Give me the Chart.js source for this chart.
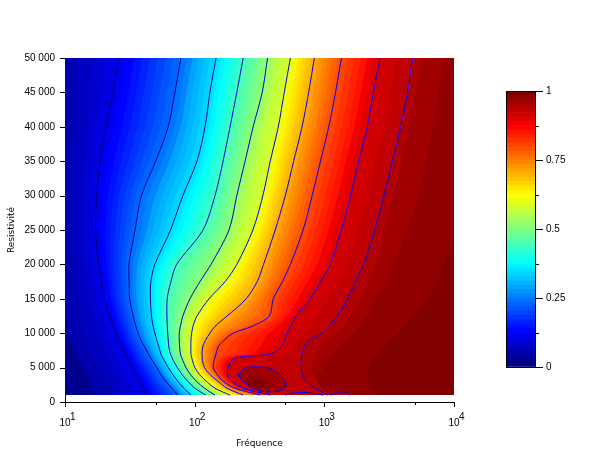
<!DOCTYPE html>
<html lang="fr">
<head>
<meta charset="UTF-8">
<title>Resistivité / Fréquence</title>
<script src="https://cdn.jsdelivr.net/npm/chart.js"></script>
<style>
  body { margin: 0; background: #fff; }
  #main { position: absolute; left: 0; top: 0; }
  #bar { position: absolute; left: 490px; top: 80px; }
</style>
</head>
<body>
<canvas id="main" width="610" height="460"></canvas>
<canvas id="bar" width="110" height="300"></canvas>
<script>
// rows of the contour table (resistivity), values below are log10(frequency) read on each row
const resistivity = [50000,45000,40000,35000,30000,25000,20000,17500,15000,12500,11000,10000,9000,8000,7000,6500,6000,5000,4000,3000,2000,1000];

// contours drawn on the figure
const contour10 = [1.416,1.370,1.319,1.272,1.246,1.236,1.262,1.283,1.306,1.344,1.375,1.396,1.414,1.445,1.468,1.480,1.491,1.522,1.553,1.577,1.604,1.623];
const contour20 = [1.894,1.848,1.796,1.700,1.590,1.540,1.494,1.495,1.499,1.526,1.546,1.565,1.584,1.615,1.642,1.658,1.673,1.708,1.739,1.778,1.824,1.871];
const contour30 = [2.165,2.118,2.080,2.018,1.909,1.814,1.693,1.662,1.659,1.667,1.680,1.693,1.708,1.724,1.739,1.751,1.766,1.797,1.832,1.871,1.917,1.971];
const contour40 = [2.374,2.325,2.273,2.219,2.157,2.064,1.861,1.817,1.788,1.786,1.789,1.792,1.796,1.801,1.813,1.824,1.836,1.867,1.902,1.948,2.002,2.087];
const contour50 = [2.562,2.521,2.451,2.389,2.325,2.265,2.126,2.041,1.964,1.909,1.890,1.881,1.881,1.884,1.890,1.898,1.909,1.933,1.967,2.014,2.076,2.157];
const contour60 = [2.738,2.691,2.645,2.583,2.526,2.449,2.325,2.235,2.111,2.018,1.987,1.977,1.971,1.971,1.971,1.977,1.983,2.002,2.037,2.091,2.157,2.273];
const contour70 = [2.923,2.879,2.828,2.763,2.699,2.621,2.531,2.482,2.397,2.250,2.157,2.118,2.084,2.062,2.057,2.058,2.060,2.076,2.118,2.180,2.250,2.374];
const contour80 = [3.132,3.086,3.034,2.970,2.906,2.836,2.738,2.676,2.606,2.575,2.443,2.296,2.227,2.180,2.165,2.157,2.149,2.144,2.173,2.219,2.312,2.505];
const contour90 = [3.429,3.378,3.331,3.264,3.202,3.130,3.047,2.970,2.892,2.784,2.738,2.714,2.691,2.668,2.583,2.335,2.289,2.258,2.254,2.289,2.374,2.583];
const contour95 = [3.682,3.641,3.589,3.525,3.460,3.388,3.303,3.241,3.179,3.101,3.039,2.985,2.885,2.846,2.827,2.823,2.820,2.823,2.830,2.861,2.923,3.024];

// colour band edges without a drawn line
const edge04 = [0.988,0.988,0.988,0.988,0.988,0.992,0.996,1.000,1.004,1.012,1.019,1.027,1.043,1.066,1.089,1.104,1.120,1.143,1.174,1.197,1.221,1.244];
const edge06 = [1.089,1.081,1.074,1.066,1.058,1.066,1.074,1.081,1.097,1.120,1.135,1.151,1.166,1.182,1.205,1.221,1.236,1.267,1.298,1.329,1.360,1.383];
const edge08 = [1.205,1.190,1.174,1.151,1.135,1.135,1.151,1.166,1.190,1.221,1.244,1.259,1.275,1.298,1.321,1.329,1.344,1.368,1.391,1.414,1.437,1.461];
const edge953 = [3.752,3.705,3.651,3.589,3.527,3.465,3.396,3.341,3.279,3.202,3.148,3.086,3.016,2.954,2.939,2.939,2.923,2.892,2.908,2.954,2.985,3.047];
const edge969 = [3.930,3.883,3.837,3.782,3.728,3.635,3.535,3.473,3.396,3.326,3.264,3.218,3.163,3.109,3.063,3.032,3.009,2.993,2.993,3.009,3.063,3.140];
const edge985 = [4.440,4.363,4.286,4.193,4.100,4.030,3.922,3.868,3.798,3.682,3.612,3.566,3.512,3.457,3.403,3.380,3.357,3.341,3.334,3.349,3.372,3.403];

// closed contour round the hot spot
const spotLogF = [2.333,2.389,2.454,2.583,2.660,2.707,2.686,2.583,2.480,2.389,2.333];
const spotRes = [3900,4950,5100,4900,3900,2700,1850,1450,1750,2700,3900];
// inner shades of the hot spot
const spot2LogF = [2.39,2.45,2.53,2.60,2.60,2.52,2.44,2.40];
const spot2Res = [3300,3800,3600,2900,2200,1750,2000,2700];
const spot3LogF = [2.43,2.48,2.54,2.53,2.46,2.43];
const spot3Res = [3000,3300,2900,2300,2250,2700];
// dark lobes on the right of the hot spot
const lobeALogF = [2.94,2.97,3.01,3.05,3.00,2.95];
const lobeARes = [3800,4400,3500,1900,1700,2600];
const lobeBLogF = [3.18,3.21,3.26,3.28,3.24,3.19];
const lobeBRes = [3800,4800,3400,2000,1600,2600];
// small arcs along the bottom edge
const arcALogF = [2.70,2.75,2.83,2.93,2.99];
const arcARes = [1000,1280,1410,1200,1000];
const arcBLogF = [3.05,3.10,3.16,3.20];
const arcBRes = [1000,1300,1300,1000];

const xTicks = [10,50,100,500,1000,5000,10000];
const xExponents = {10:'1',100:'2',1000:'3',10000:'4'};
const yStep = 5000;
const barTicks = [0,0.125,0.25,0.375,0.5,0.625,0.75,0.875,1];

const bandLevels = [
  [0.04,edge04],[0.06,edge06],[0.08,edge08],[0.115,contour10],[0.24,contour20],[0.34,contour30],[0.43,contour40],
  [0.51,contour50],[0.6,contour60],[0.7,contour70],[0.8,contour80],[0.9,contour90],[0.9375,contour95],
  [0.953,edge953],[0.969,edge969],[0.985,edge985]
];
const blobs = [
  [0.93,arcALogF,arcARes],[0.93,arcBLogF,arcBRes],
  [0.975,lobeALogF,lobeARes],[0.975,lobeBLogF,lobeBRes],
  [0.955,spotLogF,spotRes],[0.975,spot2LogF,spot2Res],[0.995,spot3LogF,spot3Res]
];
const TENSION = 0.3;

function jet(v) {
  v = Math.min(63, Math.floor(v * 64)) / 63;
  const c = t => Math.round(255 * Math.max(0, Math.min(1, t)));
  return `rgb(${c(Math.min(4*v-1.5,-4*v+4.5))},${c(Math.min(4*v-0.5,-4*v+3.5))},${c(Math.min(4*v+0.5,-4*v+2.5))})`;
}

// same curve as the line datasets, so the fill edges sit under the lines
function splinePath(ctx, pts) {
  const n = pts.length;
  const at = i => pts[Math.max(0, Math.min(n - 1, i))];
  ctx.moveTo(pts[0][0], pts[0][1]);
  for (let i = 0; i < n - 1; i++) {
    const p0 = at(i - 1), p1 = at(i), p2 = at(i + 1), p3 = at(i + 2);
    const d01 = Math.hypot(p1[0]-p0[0], p1[1]-p0[1]), d12 = Math.hypot(p2[0]-p1[0], p2[1]-p1[1]), d23 = Math.hypot(p3[0]-p2[0], p3[1]-p2[1]);
    const fb = d01 + d12 ? TENSION * d12 / (d01 + d12) : 0;
    const fa = d12 + d23 ? TENSION * d12 / (d12 + d23) : 0;
    ctx.bezierCurveTo(p1[0] + fb*(p2[0]-p0[0]), p1[1] + fb*(p2[1]-p0[1]), p2[0] - fa*(p3[0]-p1[0]), p2[1] - fa*(p3[1]-p1[1]), p2[0], p2[1]);
  }
}

// filled contours, painted from low to high, each covers everything right of its edge
const fieldPlugin = {
  id: 'field',
  beforeDatasetsDraw(chart) {
    const { ctx, scales: { x, y } } = chart;
    const left = x.getPixelForValue(10), right = x.getPixelForValue(10000);
    const top = y.getPixelForValue(50000), bottom = y.getPixelForValue(1000);
    ctx.save();
    ctx.beginPath();
    ctx.rect(left, top, right - left, bottom - top);
    ctx.clip();
    ctx.fillStyle = jet(0.02);
    ctx.fillRect(left, top, right - left, bottom - top);
    const farRight = right + 300;
    for (let k = 0; k < bandLevels.length; k++) {
      const [la, a] = bandLevels[k];
      const next = bandLevels[k + 1];
      const n = next ? Math.max(1, Math.round((next[0] - la) * 64)) : 1;
      for (let s = 0; s < n; s++) {
        const t = s / n;
        const pts = resistivity.map((r, i) => [
          x.getPixelForValue(10 ** (next ? a[i] + (next[1][i] - a[i]) * t : a[i])),
          y.getPixelForValue(r)
        ]);
        ctx.beginPath();
        splinePath(ctx, pts);
        ctx.lineTo(farRight, bottom);
        ctx.lineTo(farRight, top);
        ctx.closePath();
        ctx.fillStyle = jet(next ? la + (next[0] - la) * (s + 0.5) / n : la + 0.004);
        ctx.fill();
      }
    }
    blobs.forEach(([lv, fx, fy]) => {
      const pts = fx.map((v, i) => [x.getPixelForValue(10 ** v), y.getPixelForValue(fy[i])]);
      ctx.beginPath();
      splinePath(ctx, pts);
      ctx.closePath();
      ctx.fillStyle = jet(lv);
      ctx.fill();
    });
    ctx.restore();
  }
};

// tick marks: long on labelled values, short on the others; exponents of the x labels
const tickPlugin = {
  id: 'tickMarks',
  afterDraw(chart) {
    const { ctx } = chart;
    ctx.save();
    ctx.strokeStyle = '#000';
    ctx.lineWidth = 1;
    ctx.beginPath();
    Object.values(chart.scales).forEach(scale => {
      if (!scale.options.display) return;
      scale.ticks.forEach(t => {
        const p = Math.round(scale.getPixelForValue(t.value)) + 0.5;
        const blank = t.label === '';
        if (scale.axis === 'x') { ctx.moveTo(p, scale.top); ctx.lineTo(p, scale.top + (blank ? 3 : 5)); }
        else if (scale.position === 'left') { ctx.moveTo(scale.right, p); ctx.lineTo(scale.right - 5, p); }
        else { ctx.moveTo(scale.left, p); ctx.lineTo(scale.left + (blank ? 3 : 7), p); }
      });
    });
    ctx.stroke();
    if (chart.scales.x.type === 'logarithmic') {
      ctx.fillStyle = '#000';
      ctx.font = '10px "Liberation Sans"';
      ctx.textAlign = 'left';
      ctx.textBaseline = 'middle';
      xTicks.filter(v => xExponents[v]).forEach(v => {
        ctx.fillText(xExponents[v], chart.scales.x.getPixelForValue(v) + 5, 417);
      });
    }
    ctx.restore();
  }
};

const framePlugin = {
  id: 'frame',
  afterDatasetsDraw(chart) {
    const { ctx, chartArea: a } = chart;
    ctx.save();
    ctx.strokeStyle = '#000';
    ctx.lineWidth = 1;
    ctx.strokeRect(a.left + 0.5, a.top + 0.5, a.right - a.left - 1, a.bottom - a.top);
    ctx.restore();
  }
};

function contourSet(logs, color) {
  return {
    data: logs.map((v, i) => ({ x: 10 ** v, y: resistivity[i] })),
    borderColor: color, borderWidth: 1, pointRadius: 0, showLine: true, tension: TENSION, fill: false
  };
}
function closedSet(fx, fy, color) {
  return {
    data: fx.map((v, i) => ({ x: 10 ** v, y: fy[i] })),
    borderColor: color, borderWidth: 1, pointRadius: 0, showLine: true, tension: TENSION, fill: false
  };
}

new Chart(document.getElementById('main'), {
  type: 'scatter',
  data: {
    datasets: [
      contourSet(contour10, '#000070'),
      contourSet(contour20, '#000090'),
      contourSet(contour30, '#0000a8'),
      contourSet(contour40, '#0000c0'),
      contourSet(contour50, '#0000d0'),
      contourSet(contour60, '#0000e8'),
      contourSet(contour70, '#0000ff'),
      contourSet(contour80, '#0000ff'),
      contourSet(contour90, '#0000ff'),
      contourSet(contour95, '#0000ff'),
      closedSet(spotLogF, spotRes, '#0000ff'),
      closedSet(arcALogF, arcARes, '#0000ff'),
      closedSet(arcBLogF, arcBRes, '#0000ff')
    ]
  },
  plugins: [fieldPlugin, tickPlugin],
  options: {
    responsive: false,
    devicePixelRatio: 1,
    animation: false,
    layout: { padding: { left: 0, top: 58, right: 156, bottom: 0 } },
    plugins: { legend: { display: false }, tooltip: { enabled: false } },
    scales: {
      x: {
        type: 'logarithmic', min: 10, max: 10000,
        afterBuildTicks(scale) { scale.ticks = xTicks.map(v => ({ value: v })); },
        afterFit(scale) { scale.height = 58; },
        grid: { drawOnChartArea: false, drawTicks: false },
        border: { color: '#000', width: 1 },
        ticks: {
          autoSkip: false, maxRotation: 0, padding: 15, color: '#000',
          font: { family: 'Liberation Sans', size: 10 },
          callback: v => xExponents[v] ? '10' : ''
        },
        title: {
          display: true, text: 'Fréquence', color: '#000',
          font: { family: 'DejaVu Sans', size: 9 }, padding: { top: 0, bottom: 11 }
        }
      },
      y: {
        min: 0, max: 50000,
        afterFit(scale) { scale.width = 65; },
        grid: { drawOnChartArea: false, drawTicks: false },
        border: { color: '#000', width: 1 },
        ticks: {
          stepSize: yStep, autoSkip: false, padding: 10, color: '#000',
          font: { family: 'Liberation Sans', size: 10 },
          callback: v => String(v).replace(/(\d)(?=\d{3}$)/, '$1 ')
        },
        title: {
          display: true, text: 'Resistivité', color: '#000',
          font: { family: 'DejaVu Sans', size: 9 }, padding: { top: 6, bottom: 0 }
        }
      }
    }
  }
});

// colour bar, one stacked bar per colour of the map
const barColors = [];
for (let i = 0; i < 64; i++) barColors.push(jet((i + 0.5) / 64));

new Chart(document.getElementById('bar'), {
  type: 'bar',
  data: {
    labels: [''],
    datasets: barColors.map(c => ({ data: [1 / 64], backgroundColor: c, borderWidth: 0, barPercentage: 1, categoryPercentage: 1 }))
  },
  plugins: [framePlugin, tickPlugin],
  options: {
    responsive: false,
    devicePixelRatio: 1,
    animation: false,
    layout: { padding: { left: 16, top: 11, right: 0, bottom: 13 } },
    plugins: { legend: { display: false }, tooltip: { enabled: false } },
    scales: {
      x: { stacked: true, display: false },
      y: {
        stacked: true, position: 'right', min: 0, max: 1,
        afterBuildTicks(scale) { scale.ticks = barTicks.map(v => ({ value: v })); },
        afterFit(scale) { scale.width = 64; scale.paddingTop = 0; scale.paddingBottom = 0; },
        grid: { drawOnChartArea: false, drawTicks: false },
        border: { display: false },
        ticks: {
          autoSkip: false, padding: 10, color: '#000',
          font: { family: 'Liberation Sans', size: 10 },
          callback: v => (v * 4) % 1 === 0 ? String(v) : ''
        }
      }
    }
  }
});
</script>
</body>
</html>
